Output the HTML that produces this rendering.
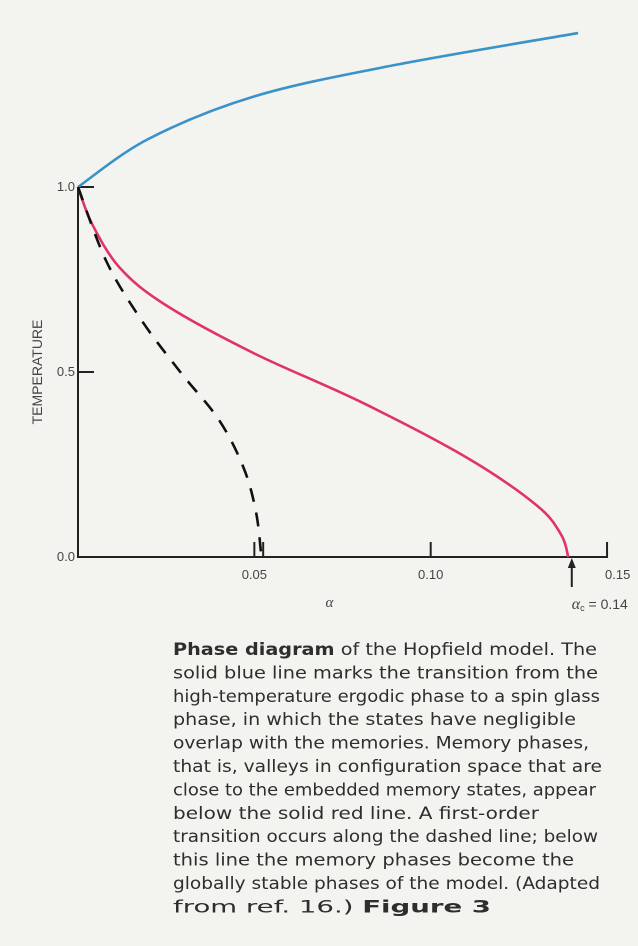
<!DOCTYPE html>
<html><head><meta charset="utf-8"><style>
html,body{margin:0;padding:0;background:#f3f3ef;}
svg{display:block;}
</style></head><body>
<svg width="638" height="946" viewBox="0 0 638 946" xmlns="http://www.w3.org/2000/svg">
<rect width="638" height="946" fill="#f3f3ef"/>
<g id="plot"></g>
<g id="caption" font-family="'DejaVu Sans', sans-serif" font-size="17" fill="#2e2e2e"></g>
</svg>
<script>
const blueAlpha=[0,0.02,0.05,0.09,0.1418];
const blueT=[1.0,1.13,1.245,1.33,1.416];
const redAlpha=[0,0.004,0.012,0.025,0.05,0.08,0.11,0.13,0.137,0.139];
const redT=[1.0,0.9,0.78,0.68,0.55,0.42,0.27,0.14,0.06,0];
const dashAlpha=[0,0.008,0.018,0.029,0.040,0.047,0.0505,0.052];
const dashT=[1.0,0.8,0.64,0.5,0.37,0.24,0.12,0];
const xTicks=[0.05,0.10,0.15];
const xTickLabels=["0.05","0.10","0.15"];
const yTicks=[0,0.5,1.0];
const yTickLabels=["0.0","0.5","1.0"];
const alphaC=0.14;

const NS="http://www.w3.org/2000/svg";
const X=a=>78+a*3527;
const Y=t=>557-t*370;
const plot=document.getElementById('plot');
function mk(tag,attrs,parent){const e=document.createElementNS(NS,tag);for(const k in attrs)e.setAttribute(k,attrs[k]);(parent||plot).appendChild(e);return e;}
function path(xs,ts){
  const p=xs.map((a,i)=>[X(a),Y(ts[i])]);
  let d="M"+p[0][0]+","+p[0][1];
  for(let i=0;i<p.length-1;i++){
    const p0=p[i-1]||p[i],p1=p[i],p2=p[i+1],p3=p[i+2]||p2;
    const c1x=p1[0]+(p2[0]-p0[0])/6,c1y=p1[1]+(p2[1]-p0[1])/6;
    const c2x=p2[0]-(p3[0]-p1[0])/6,c2y=p2[1]-(p3[1]-p1[1])/6;
    d+=` C${c1x},${c1y} ${c2x},${c2y} ${p2[0]},${p2[1]}`;
  }
  return d;
}
let ax=mk('path',{d:`M${X(0)},${Y(1.0)} L${X(0)},${Y(0)} L${X(0.15)},${Y(0)} L${X(0.15)},${Y(0)-15}`,stroke:'#222',fill:'none','stroke-width':2});


yTicks.forEach((t,i)=>{
  const l=mk('line',{x1:X(0),x2:X(0)+16,y1:Y(t),y2:Y(t),stroke:'#222','stroke-width':2});
  
  
  const tx=mk('text',{x:X(0)-3,y:Y(t)+4,'text-anchor':'end','font-family':"'Liberation Sans',sans-serif",'font-size':13,fill:'#444'});
  tx.textContent=yTickLabels[i];
  
  
});
xTicks.forEach((a,i)=>{
  if(i<2){const l=mk('line',{x1:X(a),x2:X(a),y1:Y(0),y2:Y(0)-15,stroke:'#222','stroke-width':2});
  
  }
  const tx=mk('text',{x:X(a)+(i==2?-2:0),y:Y(0)+22,'text-anchor':i==2?'start':'middle','font-family':"'Liberation Sans',sans-serif",'font-size':13,fill:'#444'});
  tx.textContent=xTickLabels[i];
  
  
});
let dt=mk('line',{x1:X(0.0525),x2:X(0.0525),y1:Y(0),y2:Y(0)-15,stroke:'#222','stroke-width':2});


let yt=mk('text',{transform:`translate(42,${Y(0.5)}) rotate(-90)`,'text-anchor':'middle','font-family':"'Liberation Sans',sans-serif",'font-size':14,fill:'#444'});
yt.textContent='TEMPERATURE';


let xt=mk('text',{x:X(0.0713),y:Y(0)+50,'text-anchor':'middle','font-family':"'Liberation Serif',serif",'font-style':'italic','font-size':15,fill:'#444'});
xt.textContent='α';


let b=mk('path',{d:path(blueAlpha,blueT),stroke:'#3a93c8',fill:'none','stroke-width':2.6});


let r=mk('path',{d:path(redAlpha,redT),stroke:'#e0336a',fill:'none','stroke-width':2.6});


let dl=mk('path',{d:path(dashAlpha,dashT),stroke:'#111',fill:'none','stroke-width':2.6,'stroke-dasharray':'14,11'});


const ax0=X(alphaC);
let ar=mk('line',{x1:ax0,x2:ax0,y1:Y(0)+30,y2:Y(0)+8,stroke:'#222','stroke-width':2});


let ah=mk('path',{d:`M${ax0-4},${Y(0)+11} L${ax0},${Y(0)+1} L${ax0+4},${Y(0)+11} Z`,fill:'#222'});


let al=mk('text',{x:ax0+28,y:Y(0)+52,'text-anchor':'middle','font-family':"'Liberation Sans',sans-serif",'font-size':14,fill:'#444'});
al.innerHTML='<tspan font-family="Liberation Serif" font-style="italic" font-size="16">α</tspan><tspan font-size="9" dy="2">c</tspan><tspan dy="-2"> = 0.14</tspan>';


const lines=[
 ["<tspan font-weight='bold'>Phase diagram</tspan> of the Hopfield model.  The",597],
 ["solid blue line marks the transition from the",598],
 ["high-temperature ergodic phase to a spin glass",600],
 ["phase, in which the states have negligible",576],
 ["overlap with the memories.  Memory phases,",589],
 ["that is, valleys in configuration space that are",602],
 ["close to the embedded memory states, appear",596],
 ["below the solid red line.  A first-order",539],
 ["transition occurs along the dashed line; below",598],
 ["this line the memory phases become the",574],
 ["globally stable phases of the model.  (Adapted",600],
 ["from ref. 16.)  <tspan font-weight='bold'>Figure 3</tspan>",491]
];
const cap=document.getElementById('caption');
lines.forEach((l,i)=>{
  const t=document.createElementNS(NS,'text');
  t.setAttribute('x',173);t.setAttribute('y',655+i*23.4);
  t.setAttribute('textLength',l[1]-173);t.setAttribute('lengthAdjust','spacingAndGlyphs');
  t.setAttribute('xml:space','preserve');
  t.innerHTML=l[0];
  
  
  cap.appendChild(t);
});
</script>
</body></html>
